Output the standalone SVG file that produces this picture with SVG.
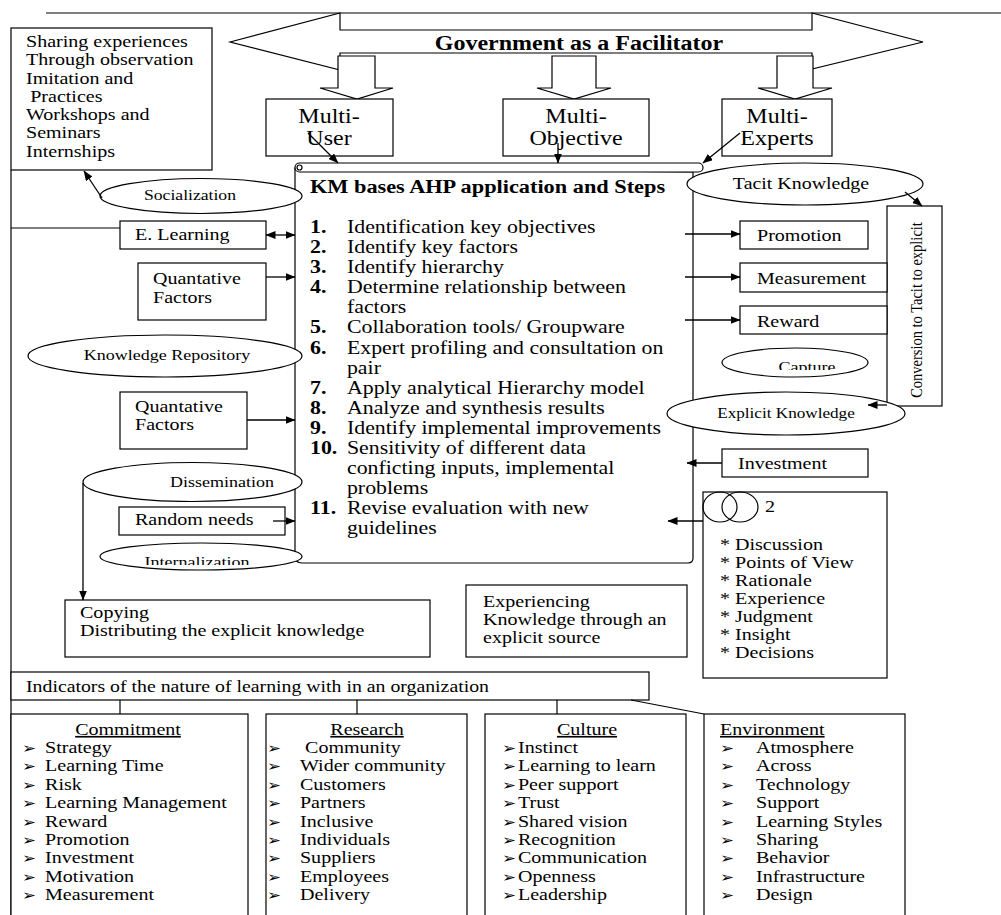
<svg xmlns="http://www.w3.org/2000/svg" width="1001" height="915" viewBox="0 0 1001 915">
<style>
.t{font-family:"Liberation Serif","Times New Roman",serif;font-size:16.7px;fill:#000}
.b{font-weight:bold}
.sm{font-size:15px}
.li{font-size:18.2px}
.ln{fill:none;stroke:#000;stroke-width:1.2}
.bx{fill:#fff;stroke:#000;stroke-width:1.2}
.ar{fill:none;stroke:#000;stroke-width:1.3;marker-end:url(#ah)}
.bul{font-family:"DejaVu Sans",sans-serif;font-size:14px}
.u{text-decoration:underline}
</style>
<defs>
<marker id="ah" viewBox="0 0 10 8" refX="9.5" refY="4" markerWidth="10" markerHeight="8" markerUnits="userSpaceOnUse" orient="auto-start-reverse"><path d="M0,0 L10,4 L0,8 z" fill="#000"/></marker>
<clipPath id="cI"><rect x="90" y="540" width="220" height="25"/></clipPath>
<clipPath id="cC"><rect x="720" y="345" width="150" height="25"/></clipPath>
</defs>
<rect width="1001" height="915" fill="#fff"/>

<g id="frame">
<line class="ln" x1="46" y1="13" x2="1001" y2="13"/>
<line class="ln" x1="11" y1="170" x2="11" y2="930"/>
</g>

<g id="government">
<polygon class="bx" points="230,42 340,13 340,30 812,30 812,13 923,42 812,69 812,53 340,53 340,70"/>
<text class="t b" style="font-size:20px" text-anchor="middle" transform="translate(579,50) scale(1.2,1)">Government as a Facilitator</text>
<polygon class="bx" points="338,56 375,56 375,88 393,88 357,99 320,88 338,88"/>
<polygon class="bx" points="552,56 596,56 596,88 611,88 574,99 537,88 552,88"/>
<polygon class="bx" points="777,56 813,56 813,88 832,88 795,99 758,88 777,88"/>
</g>

<g id="multi-user">
<rect class="bx" x="266" y="99" width="127" height="57"/>
<text class="t" style="font-size:20px" text-anchor="middle" transform="translate(329,123) scale(1.2,1)"><tspan x="0" y="0">Multi-</tspan><tspan x="0" y="22">User</tspan></text>
</g>
<g id="multi-objective">
<rect class="bx" x="503" y="99" width="146" height="57"/>
<text class="t" style="font-size:20px" text-anchor="middle" transform="translate(576,123) scale(1.2,1)"><tspan x="0" y="0">Multi-</tspan><tspan x="0" y="22">Objective</tspan></text>
</g>
<g id="multi-experts">
<rect class="bx" x="722" y="99" width="110" height="57"/>
<text class="t" style="font-size:20px" text-anchor="middle" transform="translate(777,123) scale(1.2,1)"><tspan x="0" y="0">Multi-</tspan><tspan x="0" y="22">Experts</tspan></text>
</g>

<g id="sharing">
<rect class="bx" x="11" y="28" width="201" height="142"/>
<text class="t" transform="translate(26,47) scale(1.2,1)"><tspan x="0" y="0">Sharing experiences</tspan><tspan x="0" y="18.3">Through observation</tspan><tspan x="0" y="36.6">Imitation and</tspan><tspan x="3.5" y="54.9">Practices</tspan><tspan x="0" y="73.2">Workshops and</tspan><tspan x="0" y="91.5">Seminars</tspan><tspan x="0" y="109.8">Internships</tspan></text>
</g>

<g id="km-steps">
<path class="bx" d="M295,168 L295,556 Q295,563 302,563 L688,563 Q693,563 693,558 L693,172 Z"/>
<rect class="bx" x="295" y="163" width="408" height="9" rx="4.5"/>
<circle class="ln" cx="299.5" cy="167.5" r="2.5"/>
<text class="t b" style="font-size:18.6px" transform="translate(310,193) scale(1.2,1)">KM bases AHP application and Steps</text>
<text class="t li" transform="translate(310,233) scale(1.2,1)">
<tspan x="0" y="0" class="b">1.</tspan><tspan x="30.8" y="0">Identification key objectives</tspan>
<tspan x="0" y="20.1" class="b">2.</tspan><tspan x="30.8" y="20.1">Identify key factors</tspan>
<tspan x="0" y="40.2" class="b">3.</tspan><tspan x="30.8" y="40.2">Identify hierarchy</tspan>
<tspan x="0" y="60.3" class="b">4.</tspan><tspan x="30.8" y="60.3">Determine relationship between</tspan>
<tspan x="30.8" y="80.4">factors</tspan>
<tspan x="0" y="100.5" class="b">5.</tspan><tspan x="30.8" y="100.5">Collaboration tools/ Groupware</tspan>
<tspan x="0" y="120.6" class="b">6.</tspan><tspan x="30.8" y="120.6">Expert profiling and consultation on</tspan>
<tspan x="30.8" y="140.7">pair</tspan>
<tspan x="0" y="160.8" class="b">7.</tspan><tspan x="30.8" y="160.8">Apply analytical Hierarchy model</tspan>
<tspan x="0" y="180.9" class="b">8.</tspan><tspan x="30.8" y="180.9">Analyze and synthesis results</tspan>
<tspan x="0" y="201" class="b">9.</tspan><tspan x="30.8" y="201">Identify implemental improvements</tspan>
<tspan x="0" y="221.1" class="b">10.</tspan><tspan x="30.8" y="221.1">Sensitivity of different data</tspan>
<tspan x="30.8" y="241.2">conficting inputs, implemental</tspan>
<tspan x="30.8" y="261.3">problems</tspan>
<tspan x="0" y="281.4" class="b">11.</tspan><tspan x="30.8" y="281.4">Revise evaluation with new</tspan>
<tspan x="30.8" y="301.5">guidelines</tspan>
</text>
</g>

<g id="socialization">
<ellipse class="bx" cx="201" cy="196" rx="101" ry="17.5"/>
<text class="t" style="font-size:14.7px" text-anchor="middle" transform="translate(190,200) scale(1.2,1)">Socialization</text>
</g>
<g id="e-learning">
<rect class="bx" x="120" y="221" width="146" height="28"/>
<text class="t" transform="translate(135,240) scale(1.2,1)">E. Learning</text>
</g>
<g id="quant1">
<rect class="bx" x="138" y="263" width="128" height="57"/>
<text class="t" transform="translate(153,284) scale(1.2,1)"><tspan x="0" y="0">Quantative</tspan><tspan x="0" y="19">Factors</tspan></text>
</g>
<g id="knowledge-repository">
<ellipse class="bx" cx="165" cy="356" rx="137" ry="21"/>
<text class="t sm" text-anchor="middle" transform="translate(167,360) scale(1.2,1)">Knowledge Repository</text>
</g>
<g id="quant2">
<rect class="bx" x="120" y="392" width="127" height="57"/>
<text class="t" transform="translate(135,412) scale(1.2,1)"><tspan x="0" y="0">Quantative</tspan><tspan x="0" y="18.5">Factors</tspan></text>
</g>
<g id="dissemination">
<ellipse class="bx" cx="192.5" cy="482" rx="109.5" ry="19.5"/>
<text class="t sm" text-anchor="middle" transform="translate(222,487) scale(1.2,1)">Dissemination</text>
</g>
<g id="random-needs">
<rect class="bx" x="119" y="507" width="166" height="28"/>
<text class="t" transform="translate(135,525) scale(1.2,1)">Random needs</text>
</g>
<g id="internalization">
<ellipse class="bx" cx="201" cy="556.5" rx="101" ry="13.5"/>
<g clip-path="url(#cI)"><text class="t sm" text-anchor="middle" transform="translate(197,567) scale(1.2,1)">Internalization</text></g>
</g>
<g id="copying">
<rect class="bx" x="65" y="600" width="365" height="57"/>
<text class="t" transform="translate(80,618) scale(1.2,1)"><tspan x="0" y="0">Copying</tspan><tspan x="0" y="18">Distributing the explicit knowledge</tspan></text>
</g>
<g id="experiencing">
<rect class="bx" x="466" y="585" width="221" height="72"/>
<text class="t" transform="translate(483,607) scale(1.2,1)"><tspan x="0" y="0">Experiencing</tspan><tspan x="0" y="18">Knowledge through an</tspan><tspan x="0" y="36">explicit source</tspan></text>
</g>

<g id="tacit-knowledge">
<ellipse class="bx" cx="805" cy="184" rx="118" ry="21"/>
<text class="t" style="font-size:16.6px" text-anchor="middle" transform="translate(801,189) scale(1.2,1)">Tacit Knowledge</text>
</g>
<g id="conversion">
<rect class="bx" x="887" y="206" width="55" height="200"/>
<text class="t" style="font-size:14.5px" text-anchor="middle" transform="translate(922,310) rotate(-90) scale(1,1.2)">Conversion to Tacit to explicit</text>
</g>
<g id="promotion">
<rect class="bx" x="740" y="221" width="128" height="28"/>
<text class="t" transform="translate(757,241) scale(1.2,1)">Promotion</text>
</g>
<g id="measurement">
<rect class="bx" x="740" y="263" width="147" height="29"/>
<text class="t" transform="translate(757,284) scale(1.2,1)">Measurement</text>
</g>
<g id="reward">
<rect class="bx" x="740" y="306" width="147" height="28"/>
<text class="t" transform="translate(757,327) scale(1.2,1)">Reward</text>
</g>
<g id="capture">
<ellipse class="bx" cx="795" cy="362.5" rx="73" ry="14.5"/>
<g clip-path="url(#cC)"><text class="t sm" text-anchor="middle" transform="translate(807,372) scale(1.2,1)">Capture</text></g>
</g>
<g id="explicit-knowledge">
<ellipse class="bx" cx="786" cy="413.5" rx="119" ry="21.5"/>
<text class="t" style="font-size:14.3px" text-anchor="middle" transform="translate(786,418) scale(1.2,1)">Explicit Knowledge</text>
</g>
<g id="investment">
<rect class="bx" x="722" y="449" width="146" height="28"/>
<text class="t" transform="translate(738,469) scale(1.2,1)">Investment</text>
</g>
<g id="discussion">
<rect class="bx" x="703" y="492" width="184" height="186"/>
<ellipse class="ln" cx="720" cy="507" rx="17" ry="15"/>
<ellipse class="ln" cx="740" cy="507" rx="18" ry="15"/>
<text class="t" transform="translate(765,512) scale(1.2,1)">2</text>
<text class="t" transform="translate(720,550) scale(1.2,1)"><tspan x="0" y="0">* Discussion</tspan><tspan x="0" y="18">* Points of View</tspan><tspan x="0" y="36">* Rationale</tspan><tspan x="0" y="54">* Experience</tspan><tspan x="0" y="72">* Judgment</tspan><tspan x="0" y="90">* Insight</tspan><tspan x="0" y="108">* Decisions</tspan></text>
</g>

<g id="indicators">
<rect class="bx" x="11" y="672" width="638" height="28"/>
<text class="t" style="font-size:16.5px" transform="translate(26,692) scale(1.2,1)">Indicators of the nature of learning with in an organization</text>
</g>
<g id="commitment">
<rect class="bx" x="11" y="714" width="237" height="220"/>
<text class="t u" text-anchor="middle" transform="translate(128,735) scale(1.2,1)">Commitment</text>
<text class="t" transform="translate(22,753) scale(1.2,1)">
<tspan class="bul" x="0" y="0">➢</tspan><tspan x="19.2" y="0">Strategy</tspan>
<tspan class="bul" x="0" y="18.4">➢</tspan><tspan x="19.2" y="18.4">Learning Time</tspan>
<tspan class="bul" x="0" y="36.8">➢</tspan><tspan x="19.2" y="36.8">Risk</tspan>
<tspan class="bul" x="0" y="55.2">➢</tspan><tspan x="19.2" y="55.2">Learning Management</tspan>
<tspan class="bul" x="0" y="73.6">➢</tspan><tspan x="19.2" y="73.6">Reward</tspan>
<tspan class="bul" x="0" y="92">➢</tspan><tspan x="19.2" y="92">Promotion</tspan>
<tspan class="bul" x="0" y="110.4">➢</tspan><tspan x="19.2" y="110.4">Investment</tspan>
<tspan class="bul" x="0" y="128.8">➢</tspan><tspan x="19.2" y="128.8">Motivation</tspan>
<tspan class="bul" x="0" y="147.2">➢</tspan><tspan x="19.2" y="147.2">Measurement</tspan>
</text>
</g>
<g id="research">
<rect class="bx" x="266" y="714" width="201" height="220"/>
<text class="t u" text-anchor="middle" transform="translate(367,735) scale(1.2,1)">Research</text>
<text class="t" transform="translate(267,753) scale(1.2,1)">
<tspan class="bul" x="0" y="0">➢</tspan><tspan x="31.7" y="0">Community</tspan>
<tspan class="bul" x="0" y="18.4">➢</tspan><tspan x="27.5" y="18.4">Wider community</tspan>
<tspan class="bul" x="0" y="36.8">➢</tspan><tspan x="27.5" y="36.8">Customers</tspan>
<tspan class="bul" x="0" y="55.2">➢</tspan><tspan x="27.5" y="55.2">Partners</tspan>
<tspan class="bul" x="0" y="73.6">➢</tspan><tspan x="27.5" y="73.6">Inclusive</tspan>
<tspan class="bul" x="0" y="92">➢</tspan><tspan x="27.5" y="92">Individuals</tspan>
<tspan class="bul" x="0" y="110.4">➢</tspan><tspan x="27.5" y="110.4">Suppliers</tspan>
<tspan class="bul" x="0" y="128.8">➢</tspan><tspan x="27.5" y="128.8">Employees</tspan>
<tspan class="bul" x="0" y="147.2">➢</tspan><tspan x="27.5" y="147.2">Delivery</tspan>
</text>
</g>
<g id="culture">
<rect class="bx" x="485" y="714" width="201" height="220"/>
<text class="t u" text-anchor="middle" transform="translate(587,735) scale(1.2,1)">Culture</text>
<text class="t" transform="translate(502,753) scale(1.2,1)">
<tspan class="bul" x="0" y="0">➢</tspan><tspan x="13.3" y="0">Instinct</tspan>
<tspan class="bul" x="0" y="18.4">➢</tspan><tspan x="13.3" y="18.4">Learning to learn</tspan>
<tspan class="bul" x="0" y="36.8">➢</tspan><tspan x="13.3" y="36.8">Peer support</tspan>
<tspan class="bul" x="0" y="55.2">➢</tspan><tspan x="13.3" y="55.2">Trust</tspan>
<tspan class="bul" x="0" y="73.6">➢</tspan><tspan x="13.3" y="73.6">Shared vision</tspan>
<tspan class="bul" x="0" y="92">➢</tspan><tspan x="13.3" y="92">Recognition</tspan>
<tspan class="bul" x="0" y="110.4">➢</tspan><tspan x="13.3" y="110.4">Communication</tspan>
<tspan class="bul" x="0" y="128.8">➢</tspan><tspan x="13.3" y="128.8">Openness</tspan>
<tspan class="bul" x="0" y="147.2">➢</tspan><tspan x="13.3" y="147.2">Leadership</tspan>
</text>
</g>
<g id="environment">
<rect class="bx" x="704" y="714" width="201" height="220"/>
<text class="t u" transform="translate(720,735) scale(1.2,1)">Environment</text>
<text class="t" transform="translate(720,753) scale(1.2,1)">
<tspan class="bul" x="0" y="0">➢</tspan><tspan x="30" y="0">Atmosphere</tspan>
<tspan class="bul" x="0" y="18.4">➢</tspan><tspan x="30" y="18.4">Across</tspan>
<tspan class="bul" x="0" y="36.8">➢</tspan><tspan x="30" y="36.8">Technology</tspan>
<tspan class="bul" x="0" y="55.2">➢</tspan><tspan x="30" y="55.2">Support</tspan>
<tspan class="bul" x="0" y="73.6">➢</tspan><tspan x="30" y="73.6">Learning Styles</tspan>
<tspan class="bul" x="0" y="92">➢</tspan><tspan x="30" y="92">Sharing</tspan>
<tspan class="bul" x="0" y="110.4">➢</tspan><tspan x="30" y="110.4">Behavior</tspan>
<tspan class="bul" x="0" y="128.8">➢</tspan><tspan x="30" y="128.8">Infrastructure</tspan>
<tspan class="bul" x="0" y="147.2">➢</tspan><tspan x="30" y="147.2">Design</tspan>
</text>
</g>

<g id="connectors">
<line class="ar" x1="308" y1="133" x2="338" y2="163"/>
<line class="ar" x1="558" y1="143" x2="558" y2="163"/>
<line class="ar" x1="740" y1="133" x2="703" y2="163"/>
<line class="ar" x1="102" y1="198" x2="84" y2="171"/>
<line class="ln" x1="11" y1="228" x2="120" y2="228"/>
<line class="ar" x1="266" y1="235" x2="295" y2="235" style="marker-start:url(#ah)"/>
<line class="ar" x1="266" y1="277" x2="295" y2="277"/>
<line class="ar" x1="247" y1="420" x2="295" y2="420"/>
<line class="ar" x1="273" y1="521" x2="295" y2="521"/>
<path class="ar" d="M83,483 L83,600"/>
<line class="ar" x1="905" y1="192" x2="922" y2="206"/>
<line class="ar" x1="685" y1="234" x2="740" y2="234"/>
<line class="ar" x1="685" y1="277" x2="740" y2="277"/>
<line class="ar" x1="685" y1="320" x2="740" y2="320"/>
<line class="ar" x1="887" y1="405" x2="868" y2="405"/>
<line class="ar" x1="722" y1="463" x2="687" y2="463"/>
<line class="ar" x1="703" y1="521" x2="668" y2="521"/>
<line class="ln" x1="120" y1="700" x2="120" y2="714"/>
<line class="ln" x1="357" y1="700" x2="357" y2="714"/>
<line class="ln" x1="557" y1="700" x2="557" y2="714"/>
<line class="ln" x1="631" y1="700" x2="704" y2="714"/>
</g>
</svg>
